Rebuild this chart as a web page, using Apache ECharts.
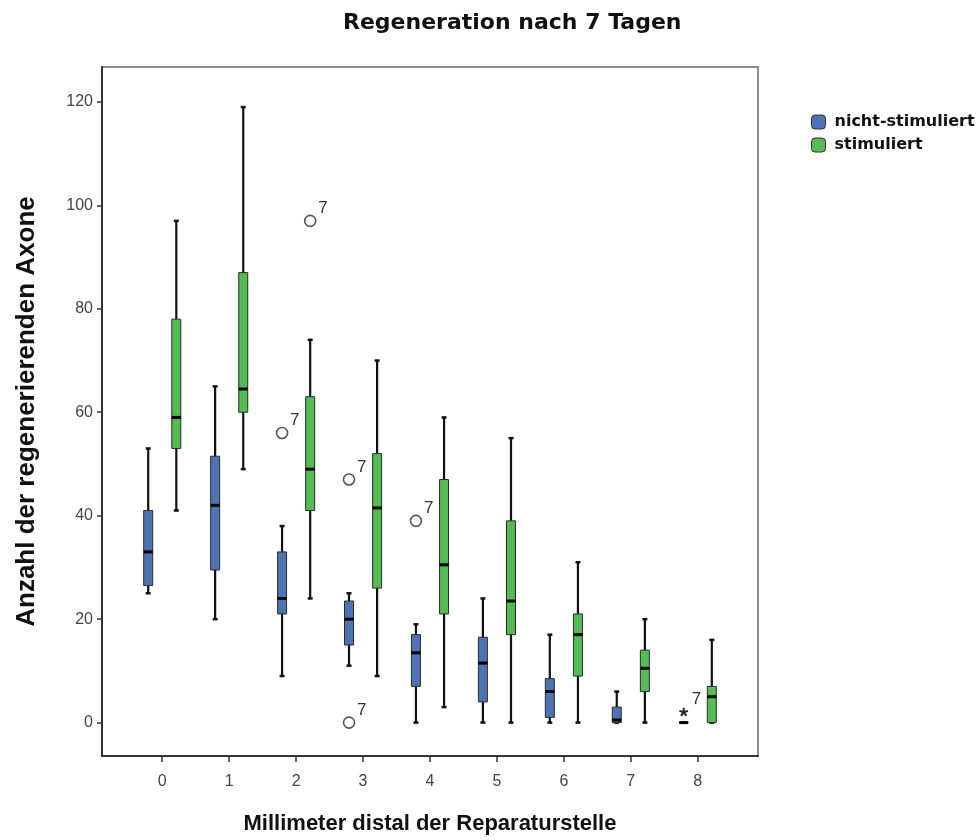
<!DOCTYPE html>
<html>
<head>
<meta charset="utf-8">
<title>Regeneration nach 7 Tagen</title>
<script src="https://cdn.jsdelivr.net/npm/echarts@6/dist/echarts.min.js"></script>
<style>
  html, body { margin: 0; padding: 0; background: #fff; }
  #chart { width: 979px; height: 840px; }
</style>
</head>
<body>
<div id="chart"></div>
<script>
// Millimeter distal der Reparaturstelle (Kategorien der x-Achse)
const categories = ['0', '1', '2', '3', '4', '5', '6', '7', '8'];

// Boxplot-Kennwerte je Kategorie: [Minimum, Q1, Median, Q3, Maximum]
const nichtStimuliert = [
  [25, 26.5, 33, 41, 53],
  [20, 29.5, 42, 51.5, 65],
  [9, 21, 24, 33, 38],
  [11, 15, 20, 23.5, 25],
  [0, 7, 13.5, 17, 19],
  [0, 4, 11.5, 16.5, 24],
  [0, 1, 6, 8.5, 17],
  [0, 0, 0.5, 3, 6],
  [0, 0, 0, 0, 0]
];
const stimuliert = [
  [41, 53, 59, 78, 97],
  [49, 60, 64.5, 87, 119],
  [24, 41, 49, 63, 74],
  [9, 26, 41.5, 52, 70],
  [3, 21, 30.5, 47, 59],
  [0, 17, 23.5, 39, 55],
  [0, 9, 17, 21, 31],
  [0, 6, 10.5, 14, 20],
  [0, 0, 5, 7, 16]
];

// Ausreißer: [Kategorie, Wert, Fallnummer]
const ausreisserNicht = [[2, 56, '7'], [3, 47, '7'], [3, 0, '7'], [4, 39, '7']];
const extremwerteNicht = [[8, 2, '7']];
const ausreisserStim = [[2, 97, '7']];

// Beschriftung der y-Achse
const yTicks = [0, 20, 40, 60, 80, 100, 120];

const BLUE = '#4f72b3';
const GREEN = '#55bb55';
const GROUP_OFFSET = 0.21;   // seitlicher Versatz der beiden Gruppen je Kategorie
const BOX_HALF = 4.5;        // halbe Boxbreite in Pixel
const CAP_HALF = 2.5;
const FONT = '"Liberation Sans", Arial, sans-serif';

function boxRenderer(offset) {
  return function (params, api) {
    const x = api.value(0) + offset;
    const pt = (k) => api.coord([x, api.value(k)]);
    const lo = pt(1), q1 = pt(2), med = pt(3), q3 = pt(4), hi = pt(5);
    const cx = lo[0];
    const color = api.visual('color');
    const whisker = { stroke: '#111', lineWidth: 2.2 };
    const cap = { stroke: '#111', lineWidth: 2.5 };
    return {
      type: 'group',
      children: [
        { type: 'line', shape: { x1: cx, y1: hi[1], x2: cx, y2: q3[1] }, style: whisker },
        { type: 'line', shape: { x1: cx, y1: q1[1], x2: cx, y2: lo[1] }, style: whisker },
        { type: 'line', shape: { x1: cx - CAP_HALF, y1: hi[1], x2: cx + CAP_HALF, y2: hi[1] }, style: cap },
        { type: 'line', shape: { x1: cx - CAP_HALF, y1: lo[1], x2: cx + CAP_HALF, y2: lo[1] }, style: cap },
        {
          type: 'rect',
          shape: { x: cx - BOX_HALF, y: q3[1], width: BOX_HALF * 2, height: q1[1] - q3[1] },
          style: { fill: color, stroke: '#2b2b2b', lineWidth: 1 }
        },
        { type: 'line', shape: { x1: cx - BOX_HALF, y1: med[1], x2: cx + BOX_HALF, y2: med[1] },
          style: { stroke: '#000', lineWidth: 3 } }
      ]
    };
  };
}

function caseLabel(px, py, text) {
  return {
    type: 'text',
    style: {
      text: text, x: px + 8, y: py - 4, font: '17px ' + FONT, fill: '#333',
      textAlign: 'left', textVerticalAlign: 'bottom'
    }
  };
}

function outlierRenderer(offset) {
  return function (params, api) {
    const p = api.coord([api.value(0) + offset, api.value(1)]);
    return {
      type: 'group',
      children: [
        { type: 'circle', shape: { cx: p[0], cy: p[1], r: 5.5 },
          style: { fill: '#fff', stroke: '#555', lineWidth: 1.6 } },
        caseLabel(p[0], p[1], api.value(2))
      ]
    };
  };
}

function extremeRenderer(offset) {
  return function (params, api) {
    const p = api.coord([api.value(0) + offset, api.value(1)]);
    const r = 4.5;
    const arms = [];
    for (let k = 0; k < 5; k++) {
      const a = -Math.PI / 2 + k * 2 * Math.PI / 5;
      arms.push({ type: 'line', shape: { x1: p[0], y1: p[1], x2: p[0] + r * Math.cos(a), y2: p[1] + r * Math.sin(a) },
        style: { stroke: '#222', lineWidth: 2 } });
    }
    arms.push(caseLabel(p[0], p[1], api.value(2)));
    return { type: 'group', children: arms };
  };
}

const chart = echarts.init(document.getElementById('chart'), null, { renderer: 'canvas' });

chart.setOption({
  backgroundColor: '#fff',
  animation: false,
  graphic: [{
    type: 'text',
    left: 343, top: 12,
    style: { text: 'Regeneration nach 7 Tagen', font: 'bold 22px "DejaVu Sans", sans-serif', fill: '#111' }
  }],
  legend: {
    orient: 'vertical',
    left: 811, top: 114,
    padding: 0,
    itemWidth: 14, itemHeight: 14, itemGap: 7,
    icon: 'roundRect',
    data: ['nicht-stimuliert', 'stimuliert'],
    itemStyle: { borderColor: '#333', borderWidth: 1 },
    textStyle: { fontFamily: '"DejaVu Sans", sans-serif', fontWeight: 'bold', fontSize: 16, color: '#111', padding: [0, 0, 0, 4] }
  },
  grid: {
    left: 102, top: 67, width: 656, height: 691,
    show: true, borderColor: '#8c8c8c', borderWidth: 2, backgroundColor: '#fff'
  },
  xAxis: {
    type: 'value',
    min: -0.9, max: 8.9,
    name: 'Millimeter distal der Reparaturstelle',
    nameLocation: 'middle', nameGap: 57,
    nameTextStyle: { fontFamily: FONT, fontWeight: 'bold', fontSize: 22, color: '#111' },
    axisLine: { onZero: false, lineStyle: { color: '#333', width: 2 } },
    axisTick: { show: true, customValues: [0, 1, 2, 3, 4, 5, 6, 7, 8], length: 6, lineStyle: { color: '#333', width: 1.5 } },
    axisLabel: {
      customValues: [0, 1, 2, 3, 4, 5, 6, 7, 8],
      formatter: (v) => categories[Math.round(v)],
      margin: 18, fontFamily: FONT, fontSize: 16, color: '#444'
    },
    splitLine: { show: false }
  },
  yAxis: {
    type: 'value',
    min: -6.46, max: 126.75,
    name: 'Anzahl der regenerierenden Axone',
    nameLocation: 'middle', nameGap: 62,
    nameTextStyle: { fontFamily: FONT, fontWeight: 'bold', fontSize: 26, color: '#111' },
    axisLine: { show: true, onZero: false, lineStyle: { color: '#333', width: 2 } },
    axisTick: { show: true, customValues: yTicks, length: 5, lineStyle: { color: '#333', width: 1.5 } },
    axisLabel: { customValues: yTicks, margin: 9, fontFamily: FONT, fontSize: 16, color: '#444' },
    splitLine: { show: false }
  },
  series: [
    {
      name: 'nicht-stimuliert', type: 'custom',
      itemStyle: { color: BLUE },
      renderItem: boxRenderer(-GROUP_OFFSET),
      encode: { x: 0, y: [1, 2, 3, 4, 5] },
      data: nichtStimuliert.map((d, i) => [i].concat(d)),
      z: 3
    },
    {
      name: 'stimuliert', type: 'custom',
      itemStyle: { color: GREEN },
      renderItem: boxRenderer(GROUP_OFFSET),
      encode: { x: 0, y: [1, 2, 3, 4, 5] },
      data: stimuliert.map((d, i) => [i].concat(d)),
      z: 3
    },
    {
      name: 'Ausreißer nicht-stimuliert', type: 'custom',
      renderItem: outlierRenderer(-GROUP_OFFSET),
      encode: { x: 0, y: 1 },
      data: ausreisserNicht, z: 4
    },
    {
      name: 'Extremwerte nicht-stimuliert', type: 'custom',
      renderItem: extremeRenderer(-GROUP_OFFSET),
      encode: { x: 0, y: 1 },
      data: extremwerteNicht, z: 4
    },
    {
      name: 'Ausreißer stimuliert', type: 'custom',
      renderItem: outlierRenderer(GROUP_OFFSET),
      encode: { x: 0, y: 1 },
      data: ausreisserStim, z: 4
    }
  ]
});
</script>
</body>
</html>
